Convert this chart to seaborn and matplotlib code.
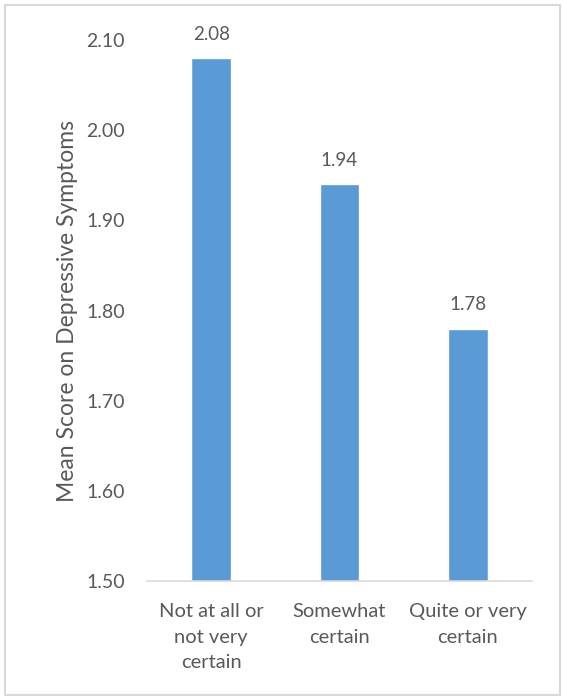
import seaborn as sns
import pandas as pd
import matplotlib.pyplot as plt
from matplotlib.patches import Rectangle

categories = ["Not at all or\nnot very\ncertain", "Somewhat\ncertain", "Quite or very\ncertain"]
mean_scores = [2.08, 1.94, 1.78]
score_labels = ["2.08", "1.94", "1.78"]
y_ticks = [1.50, 1.60, 1.70, 1.80, 1.90, 2.00, 2.10]

sns.set_style("white")
plt.rcParams['font.family'] = ['Lato', 'DejaVu Sans']
text_color = "#595959"

df = pd.DataFrame({"certainty": categories, "score": mean_scores})

fig = plt.figure(figsize=(5.63, 6.98), dpi=100)
ax = fig.add_axes([0.261, 0.1676, 0.684, 0.7751])

sns.barplot(data=df, x="certainty", y="score", color="#5B9BD5", saturation=1,
            width=0.31, ax=ax)

ax.set_ylim(1.50, 2.10)
ax.set_yticks(y_ticks)
ax.set_yticklabels([f"{v:.2f}" for v in y_ticks], fontsize=14, color=text_color)
ax.set_xticklabels(categories, fontsize=14.5, color=text_color, linespacing=1.6)
ax.set_xlabel("")
ax.set_ylabel("Mean Score on Depressive Symptoms", fontsize=16.5, color=text_color, labelpad=6)
ax.tick_params(axis="both", length=0)
ax.tick_params(axis="x", pad=16)
ax.tick_params(axis="y", pad=16)

for s in ["top", "right", "left"]:
    ax.spines[s].set_visible(False)
ax.spines["bottom"].set_color("#d9d9d9")
ax.spines["bottom"].set_linewidth(1.2)

for i, (v, lab) in enumerate(zip(mean_scores, score_labels)):
    ax.annotate(lab, (i, v), xytext=(0, 11), textcoords="offset points",
                ha="center", va="bottom", fontsize=13.5, color=text_color)

fig.patches.append(Rectangle((0.009, 0.004), 0.986, 0.989, transform=fig.transFigure,
                             fill=False, edgecolor="#d9d9d9", linewidth=1.5))

fig.savefig("out.png", dpi=100)
